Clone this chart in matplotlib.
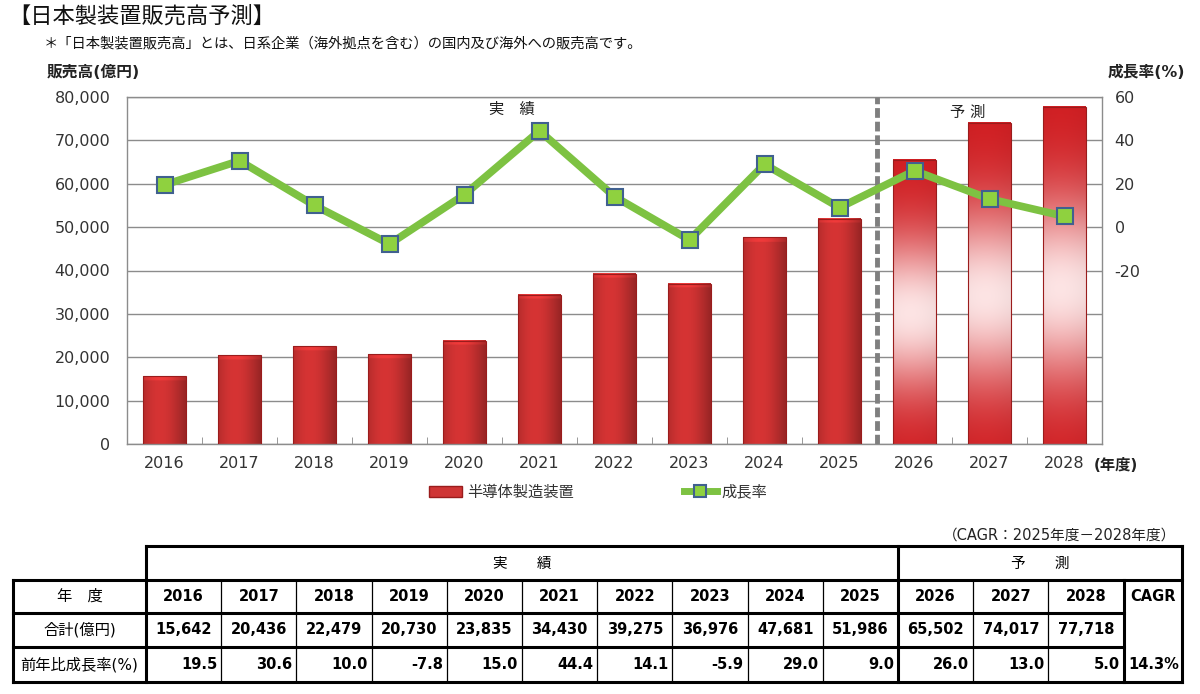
import numpy as np
import matplotlib
matplotlib.use('Agg')
import matplotlib.pyplot as plt
from matplotlib.patches import Patch
from matplotlib.lines import Line2D

plt.rcParams['font.family'] = ['DejaVu Sans', 'Noto Sans CJK JP']
plt.rcParams['axes.unicode_minus'] = False

# ---- data ----
years = ['2016', '2017', '2018', '2019', '2020', '2021', '2022',
         '2023', '2024', '2025', '2026', '2027', '2028']
sales = [15642, 20436, 22479, 20730, 23835, 34430, 39275,
         36976, 47681, 51986, 65502, 74017, 77718]
growth = [19.5, 30.6, 10.0, -7.8, 15.0, 44.4, 14.1,
          -5.9, 29.0, 9.0, 26.0, 13.0, 5.0]
n_actual = 10          # 2016-2025 are actual, rest forecast
cagr = '14.3%'
left_ticks = [0, 10000, 20000, 30000, 40000, 50000, 60000, 70000, 80000]
right_ticks = [-20, 0, 20, 40, 60]

W, H = 1200, 694
fig = plt.figure(figsize=(W / 100, H / 100), dpi=100)

# overlay in pixel coords for titles and the table
ov = fig.add_axes([0, 0, 1, 1])
ov.set_xlim(0, W)
ov.set_ylim(H, 0)
ov.axis('off')
ov.patch.set_alpha(0)

ax = fig.add_axes([127 / W, 1 - 444 / H, (1102 - 127) / W, (444 - 97) / H])
x = np.arange(len(years))


def shade_bar(ax, bar, forecast):
    x0, y0 = bar.get_x(), bar.get_y()
    w, h = bar.get_width(), bar.get_height()
    t = np.linspace(0, 1, 60)
    s = np.linspace(0, 1, 300)[:, None]
    side = 0.78 + 0.22 * np.cos((t - 0.4) * np.pi)
    if forecast:
        red = np.array([208, 28, 32]) / 255
        pale = np.array([255, 238, 238]) / 255
        wgt = 0.95 * np.exp(-((s - 0.46) / 0.27) ** 2)
        col = red * (1 - wgt[..., None]) + pale * wgt[..., None]
        col = col * (0.88 + 0.12 * side)[None, :, None]
    else:
        red = np.array([214, 52, 52]) / 255
        col = np.ones((len(s), 1, 1)) * red[None, None, :]
        col = col * side[None, :, None]
        # slight highlight on the top cap
        top = (s > 1 - 0.012 * 80000 / h)[..., None]
        col = np.where(top, np.minimum(col * 1.12, 1), col)
    col = np.clip(col, 0, 1)
    ax.imshow(col, extent=[x0, x0 + w, y0, y0 + h], origin='lower',
              aspect='auto', interpolation='bilinear', zorder=2)


bars = ax.bar(x, sales, width=0.57, color='none', edgecolor='#9a1c1c',
              linewidth=0.8, zorder=3)
for i, b in enumerate(bars):
    shade_bar(ax, b, i >= n_actual)

ax.set_xlim(-0.5, len(years) - 0.5)
ax.set_ylim(0, 80000)
ax.set_yticks(left_ticks)
ax.set_yticklabels([f'{v:,}' for v in left_ticks])
ax.set_xticks(x)
ax.set_xticklabels(years)
ax.set_xticks(np.arange(0.5, len(years) - 1, 1), minor=True)
ax.tick_params(axis='both', which='major', length=0, labelsize=11.5,
               labelcolor='#333333')
ax.tick_params(axis='y', pad=12)
ax.tick_params(axis='x', pad=9)
ax.tick_params(axis='x', which='minor', direction='in', length=5,
               color='#888888')
ax.grid(axis='y', color='#8c8c8c', linewidth=1)
ax.set_axisbelow(True)
for sp in ax.spines.values():
    sp.set_color('#8c8c8c')
    sp.set_linewidth(1)

ax.axvline(n_actual - 0.5, color='#7f7f7f', linewidth=3.5,
           linestyle=(0, (2, 0.8)), zorder=3)

ax.text(0.395, 0.965, '実　績', transform=ax.transAxes, ha='center',
        va='center', fontsize=11, color='#222222')
ax.text(0.862, 0.955, '予 測', transform=ax.transAxes, ha='center',
        va='center', fontsize=11, color='#222222')

ax2 = ax.twinx()
ax2.set_ylim(-100, 60)
ax2.set_yticks(right_ticks)
ax2.tick_params(axis='y', length=0, labelsize=11.5, labelcolor='#333333',
                pad=9)
for sp in ax2.spines.values():
    sp.set_visible(False)
ax2.plot(x, growth, color='#7dc242', linewidth=5.5, marker='s',
         markersize=12, markerfacecolor='#8fd13f', markeredgecolor='#40608f',
         markeredgewidth=1.5, zorder=4)

handles = [Patch(facecolor='#cf3535', edgecolor='#9a1c1c'),
           Line2D([], [], color='#7dc242', linewidth=5, marker='s',
                  markersize=9, markerfacecolor='#8fd13f',
                  markeredgecolor='#40608f', markeredgewidth=1.5)]
fig.legend(handles, ['半導体製造装置', '成長率'], loc='center',
           bbox_to_anchor=(598 / W, 1 - 492 / H), ncol=2, frameon=False,
           fontsize=11, handlelength=2.2, handletextpad=0.3,
           columnspacing=7.2, labelcolor='#333333')

# ---- titles ----
ov.text(8, 16, '【日本製装置販売高予測】', fontsize=16, va='center',
        ha='left', color='#111111')
ov.text(44, 43, '＊「日本製装置販売高」とは、日系企業（海外拠点を含む）の国内及び海外への販売高です。',
        fontsize=10.3, va='center', ha='left', color='#111111')
ov.text(47, 72, '販売高(億円)', fontsize=11.3, fontweight='bold',
        va='center', ha='left', color='#222222')
ov.text(1146, 72, '成長率(%)', fontsize=11.3, fontweight='bold',
        va='center', ha='center', color='#222222')
ov.text(1094, 465, '(年度)', fontsize=11, fontweight='bold',
        va='center', ha='left', color='#222222')
ov.text(1176, 535, '（CAGR：2025年度－2028年度）', fontsize=10.5,
        va='center', ha='right', color='#222222')

# ---- table ----
thick, thin = 2.2, 0.9
x_left, x_first = 13, 146
col_w = (898 - x_first) / n_actual
edges = [x_first + col_w * i for i in range(len(years) + 1)]
x_right = 1182
rows = [546, 580, 613, 647, 682]


def hline(y, xa, xb, lw):
    ov.plot([xa, xb], [y, y], color='black', linewidth=lw,
            solid_capstyle='projecting')


def vline(xv, ya, yb, lw):
    ov.plot([xv, xv], [ya, yb], color='black', linewidth=lw,
            solid_capstyle='projecting')


hline(rows[0], x_first, x_right, thick)
hline(rows[1], x_left, x_right, thick)
hline(rows[2], x_left, edges[-1], thick)
hline(rows[3], x_left, edges[-1], thick)
hline(rows[4], x_left, x_right, thick)
vline(x_left, rows[1], rows[4], thick)
vline(x_first, rows[0], rows[4], thick)
vline(edges[n_actual], rows[0], rows[4], thick)
vline(edges[-1], rows[1], rows[4], thick)
vline(x_right, rows[0], rows[4], thick)
for i in range(1, len(years)):
    if i != n_actual:
        vline(edges[i], rows[1], rows[4], thin)

ymid = [(rows[k] + rows[k + 1]) / 2 for k in range(4)]
ov.text((edges[0] + edges[n_actual]) / 2, ymid[0], '実　　績', ha='center',
        va='center', fontsize=10.5)
ov.text((edges[n_actual] + x_right) / 2, ymid[0], '予　　測', ha='center',
        va='center', fontsize=10.5)
ov.text((x_left + x_first) / 2, ymid[1], '年　度', ha='center', va='center',
        fontsize=11)
ov.text((x_left + x_first) / 2, ymid[2], '合計(億円)', ha='center',
        va='center', fontsize=11)
ov.text((x_left + x_first) / 2, ymid[3], '前年比成長率(%)', ha='center',
        va='center', fontsize=11)
for i in range(len(years)):
    cx = (edges[i] + edges[i + 1]) / 2
    ov.text(cx, ymid[1], years[i], ha='center', va='center',
            fontsize=10.5, fontweight='bold')
    ov.text(cx, ymid[2], f'{sales[i]:,}', ha='center', va='center',
            fontsize=10.5, fontweight='bold')
    ov.text(edges[i + 1] - 4, ymid[3], f'{growth[i]:.1f}', ha='right',
            va='center', fontsize=10.5, fontweight='bold')
ov.text((edges[-1] + x_right) / 2, ymid[1], 'CAGR', ha='center',
        va='center', fontsize=10.5, fontweight='bold')
ov.text(x_right - 3, ymid[3], cagr, ha='right', va='center',
        fontsize=10.5, fontweight='bold')

fig.savefig('out.png', dpi=100)
